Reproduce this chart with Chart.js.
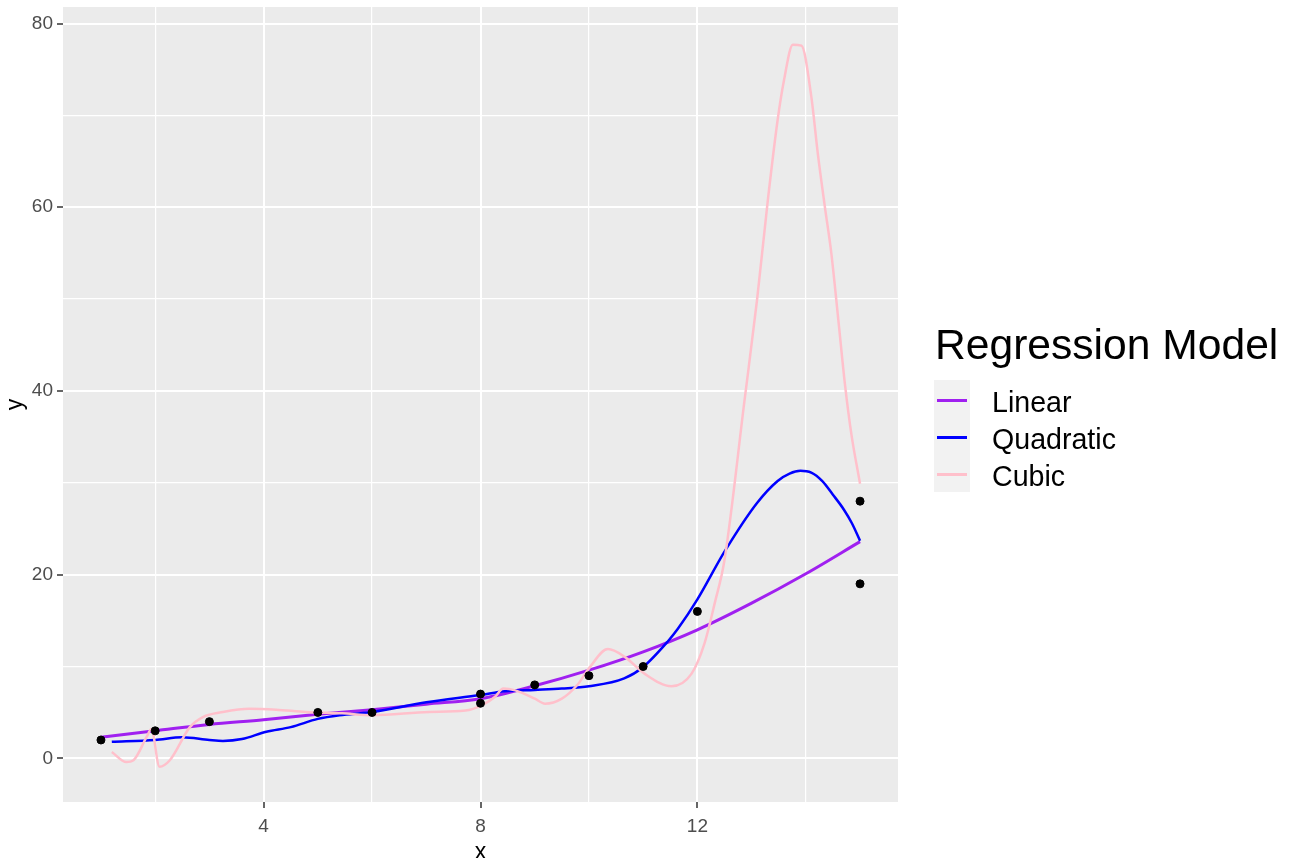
<!DOCTYPE html>
<html>
<head>
<meta charset="utf-8">
<script src="https://cdn.jsdelivr.net/npm/chart.js@4.4.1/dist/chart.umd.min.js"></script>
<style>
    html, body { margin: 0; padding: 0; background: #fff; overflow: hidden; }
    #wrap { position: relative; width: 1293px; height: 858px; }
    #legend { position: absolute; left: 0; top: 0; font-family: "Liberation Sans", Arial, sans-serif; color: #000; }
    #legend .title { position: absolute; left: 935px; top: 321px; font-size: 42.6px; line-height: 46px; white-space: nowrap; }
    #legend .keybg { position: absolute; left: 934px; top: 380px; width: 36px; height: 112px; background: #f2f2f2; }
    #legend .key { position: absolute; left: 937px; width: 30px; height: 3px; }
    #legend .lab { position: absolute; left: 992px; font-size: 28.6px; line-height: 32px; white-space: nowrap; }
</style>
</head>
<body>
<div id="wrap">
    <canvas id="chart" width="1293" height="858"></canvas>
    <div id="legend"></div>
</div>
<script>
// observed points
const pointX = [1, 2, 3, 5, 6, 8, 8, 9, 10, 11, 12, 15, 15];
const pointY = [2, 3, 4, 5, 5, 6, 7, 8, 9, 10, 16, 19, 28];

// fitted curves
const linearX = [1, 2, 3, 4, 5, 6, 7, 8, 9, 10, 11, 12, 13, 14, 15];
const linearY = [2.3, 3.0, 3.7, 4.2, 4.8, 5.3, 5.9, 6.5, 7.9, 9.6, 11.6, 14.0, 16.9, 20.1, 23.6];

const quadX = [1.2, 2, 2.5, 3, 3.25, 3.6, 4.05, 4.5, 5, 5.4, 6, 7, 8, 8.45, 9, 9.5, 10, 10.65, 11, 11.45, 11.64, 12, 12.5, 13.1, 13.48, 13.7, 13.9, 14.1, 14.3, 14.5, 14.7, 14.85, 15];
const quadY = [1.8, 2.0, 2.3, 2.0, 1.9, 2.1, 2.9, 3.4, 4.3, 4.7, 5.05, 6.1, 6.9, 7.3, 7.45, 7.6, 7.85, 8.7, 9.95, 12.7, 14.1, 17.3, 22.5, 27.8, 30.2, 31.0, 31.3, 31.1, 30.2, 28.7, 27.1, 25.6, 23.7];

const cubicX = [1.2, 1.47, 1.6, 1.84, 1.93, 2.08, 2.27, 2.64, 2.88, 3.25, 3.74, 4.23, 4.78, 5.45, 6, 7.05, 7.72, 8.03, 8.27, 8.42, 8.64, 9.0, 9.19, 9.5, 9.8, 10.0, 10.35, 10.66, 11.03, 11.52, 11.89, 12.13, 12.32, 12.5, 12.87, 13.1, 13.3, 13.48, 13.6, 13.76, 13.92, 14.1, 14.22, 14.35, 14.47, 14.6, 14.72, 14.84, 15];
const cubicY = [0.7, -0.4, -0.2, 2.3, 3.2, -0.9, -0.2, 3.4, 4.5, 5.05, 5.4, 5.3, 5.05, 4.9, 4.7, 5.05, 5.2, 5.8, 6.7, 7.6, 7.4, 6.5, 5.95, 6.5, 8.1, 9.8, 11.9, 11.05, 9.2, 7.85, 9.2, 12.5, 16.9, 21.6, 39, 49.9, 60.8, 69.5, 73.9, 77.7, 77.6, 72.1, 65.9, 60.1, 55, 47.7, 40.8, 35.3, 29.9];

const seriesNames = ['Linear', 'Quadratic', 'Cubic'];
const seriesColors = ['#a020f0', '#0000ff', '#ffc0cb'];

const xMajor = [4, 8, 12];
const xMinor = [2, 6, 10, 14];
const yMajor = [0, 20, 40, 60, 80];
const yMinor = [10, 30, 50, 70];

const zip = (xs, ys) => xs.map((x, i) => ({ x, y: ys[i] }));

const panelBg = {
    id: 'panelBg',
    beforeDraw(chart) {
        const a = chart.chartArea;
        const ctx = chart.ctx;
        ctx.save();
        ctx.fillStyle = '#ebebeb';
        ctx.fillRect(a.left, a.top, a.right - a.left, a.bottom - a.top);
        ctx.restore();
    }
};

function axis(major, minor, min, max) {
    const isMajor = v => major.includes(v);
    return {
        type: 'linear',
        min, max,
        afterBuildTicks: s => { s.ticks = major.concat(minor).sort((a, b) => a - b).map(v => ({ value: v })); },
        grid: {
            color: '#ffffff',
            lineWidth: c => isMajor(c.tick.value) ? 2 : 1.2,
            tickColor: c => isMajor(c.tick.value) ? '#333333' : 'rgba(0,0,0,0)',
            tickWidth: 1.5,
            tickLength: 6
        },
        border: { display: false },
        ticks: {
            color: '#4d4d4d',
            font: { family: 'Liberation Sans', size: 19 },
            padding: 4,
            callback: v => isMajor(v) ? String(v) : ''
        }
    };
}

const xScale = axis(xMajor, xMinor, 0.3, 15.7);
xScale.afterFit = s => { s.height = 56; s.paddingLeft = 0; s.paddingRight = 0; };
xScale.ticks.maxRotation = 0;
xScale.ticks.autoSkip = false;
xScale.ticks.padding = 7;
xScale.title = { display: true, text: 'x', color: '#000', font: { family: 'Liberation Sans', size: 23 }, padding: { top: 0, bottom: -8 } };

const yScale = axis(yMajor, yMinor, -4.75, 81.8);
yScale.afterFit = s => { s.width = 63; s.paddingTop = 0; s.paddingBottom = 0; };
yScale.ticks.autoSkip = false;
yScale.title = { display: true, text: 'y', color: '#000', font: { family: 'Liberation Sans', size: 23 }, padding: { top: 2, bottom: 0 } };

const curves = [zip(linearX, linearY), zip(quadX, quadY), zip(cubicX, cubicY)];
const widths = [3, 2.5, 2.5];

new Chart(document.getElementById('chart'), {
    type: 'scatter',
    data: {
        datasets: [
            {
                label: 'points',
                data: zip(pointX, pointY),
                backgroundColor: '#000',
                borderColor: '#000',
                pointRadius: 4,
                order: 0
            },
            ...seriesNames.map((name, i) => ({
                label: name,
                data: curves[i],
                showLine: true,
                borderColor: seriesColors[i],
                borderWidth: widths[i],
                pointRadius: 0,
                cubicInterpolationMode: 'monotone',
                order: 3 - i
            }))
        ]
    },
    options: {
        responsive: false,
        animation: false,
        layout: { padding: { top: 7, right: 395, left: 0, bottom: 0 } },
        plugins: { legend: { display: false }, tooltip: { enabled: false } },
        scales: { x: xScale, y: yScale }
    },
    plugins: [panelBg]
});

// legend drawn as html text
const legend = document.getElementById('legend');
let html = '<div class="title">Regression Model</div><div class="keybg"></div>';
seriesNames.forEach((name, i) => {
    const cy = 400 + i * 37;
    html += `<div class="key" style="top:${cy - 1.5}px;background:${seriesColors[i]}"></div>`;
    html += `<div class="lab" style="top:${cy - 14}px">${name}</div>`;
});
legend.innerHTML = html;
</script>
</body>
</html>
